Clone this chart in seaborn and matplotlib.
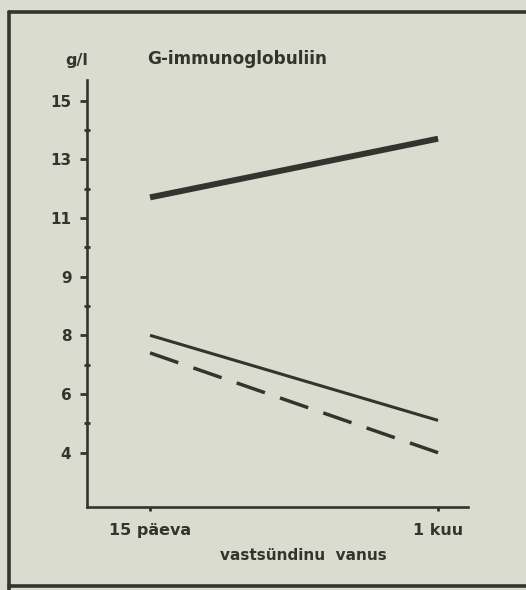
import numpy as np
import pandas as pd
import matplotlib
matplotlib.use("Agg")
import matplotlib.pyplot as plt
from matplotlib.lines import Line2D
import seaborn as sns

# data
ages = ["15 päeva", "1 kuu"]
igg_thick = [11.7, 13.7]
igg_thin = [8.0, 5.1]
igg_dash = [7.4, 4.0]

major_ticks = [15, 13, 11, 9, 8, 6, 4]
minor_ticks = [14, 12, 10, 8.5, 7, 5]

ink = "#34342f"
paper = "#dadccf"

sns.set_style("white")
plt.rcParams["font.family"] = ["DejaVu Sans"]


# the printed axis has a doubled gap between 9 and 8
def fwd(v):
    v = np.asarray(v, dtype=float)
    return np.where(v >= 9, v, np.where(v <= 8, v - 1, 2 * v - 9))


def inv(p):
    p = np.asarray(p, dtype=float)
    return np.where(p >= 9, p, np.where(p <= 7, p + 1, (p + 9) / 2))


df = pd.DataFrame({"age": ages * 3,
                   "igg": igg_thick + igg_thin + igg_dash,
                   "series": ["a"] * 2 + ["b"] * 2 + ["c"] * 2})

fig = plt.figure(figsize=(5.26, 5.90), dpi=100, facecolor=paper)
ax = fig.add_axes([0.1648, 0.1412, 0.725, 0.7232])
ax.set_facecolor(paper)
ax.set_yscale("function", functions=(fwd, inv))

sns.lineplot(data=df[df.series == "a"], x="age", y="igg", color=ink,
             linewidth=4.3, ax=ax, sort=False)
sns.lineplot(data=df[df.series == "b"], x="age", y="igg", color=ink,
             linewidth=2.2, ax=ax, sort=False)
sns.lineplot(data=df[df.series == "c"], x="age", y="igg", color=ink,
             linewidth=2.5, ax=ax, sort=False, dashes=False)
ax.lines[-1].set_dashes((8.6, 4.6))
for ln in ax.lines:
    ln.set_solid_capstyle("butt")
    ln.set_dash_capstyle("butt")

ax.set_xlim(-0.22, 1.104)
ax.set_ylim(2.16, 15.7)

ax.set_yticks(major_ticks)
ax.set_yticklabels([str(t) for t in major_ticks], fontweight="bold",
                   fontsize=11, color=ink)
ax.set_yticks(minor_ticks, minor=True)
ax.set_xticks([0, 1])
ax.set_xticklabels(ages, fontweight="bold", fontsize=11.5, color=ink)

ax.tick_params(axis="y", which="major", direction="out", length=5,
               width=2, color=ink, pad=6, left=True)
ax.tick_params(axis="y", which="minor", direction="inout", length=4,
               width=2, color=ink, left=True)
ax.tick_params(axis="x", which="major", direction="out", length=3,
               width=2, color=ink, pad=9, bottom=True)

for s in ["top", "right"]:
    ax.spines[s].set_visible(False)
for s in ["left", "bottom"]:
    ax.spines[s].set_color(ink)
    ax.spines[s].set_linewidth(1.9)

ax.set_ylabel("")
ax.set_xlabel("vastsündinu  vanus", fontweight="bold", fontsize=11,
              color=ink)
ax.xaxis.set_label_coords(0.567, -0.097)

fig.text(77 / 526, 1 - 60 / 590, "g/l", ha="center", va="center",
         fontweight="bold", fontsize=11.5, color=ink)
fig.text(147 / 526, 1 - 59 / 590, "G-immunoglobuliin", ha="left",
         va="center", fontweight="bold", fontsize=12.2, color=ink)

# outer frame of the printed box
fig.add_artist(Line2D([0.0162, 1.0], [0.9805, 0.9805], color=ink,
                      linewidth=2.6, transform=fig.transFigure))
fig.add_artist(Line2D([0.0162, 0.0162], [0.0, 0.9805], color=ink,
                      linewidth=2.6, transform=fig.transFigure))
fig.add_artist(Line2D([0.0162, 1.0], [0.0068, 0.0068], color=ink,
                      linewidth=2.6, transform=fig.transFigure))

fig.savefig("out.png", dpi=100, facecolor=paper)
